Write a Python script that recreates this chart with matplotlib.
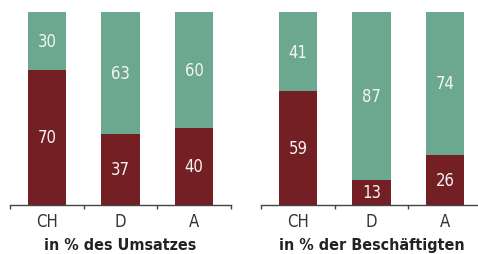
import matplotlib
matplotlib.use("Agg")
import matplotlib.pyplot as plt

# data
categories = ["CH", "D", "A"]
umsatz_red = [70, 37, 40]
umsatz_green = [30, 63, 60]
besch_red = [59, 13, 26]
besch_green = [41, 87, 74]
titles = ["in % des Umsatzes", "in % der Beschäftigten"]

RED = "#741f24"
GREEN = "#6ca88f"
GREY = "#333333"

plt.rcParams['font.family'] = ['DejaVu Sans']
plt.rcParams['font.stretch'] = 'condensed'

fig = plt.figure(figsize=(4.78, 2.55), dpi=100)
ax1 = fig.add_axes([10 / 478, 49 / 255, 221 / 478, 193 / 255])
ax2 = fig.add_axes([261 / 478, 49 / 255, 221 / 478, 193 / 255])


def draw_panel(ax, red, green, title):
    x = list(range(len(categories)))
    ax.bar(x, red, width=0.52, color=RED)
    ax.bar(x, green, width=0.52, bottom=red, color=GREEN)
    for i in x:
        ax.text(i, red[i] / 2, str(red[i]), ha="center", va="center",
                color="#f4f4f4", fontsize=12)
        ax.text(i, red[i] + green[i] / 2, str(green[i]), ha="center",
                va="center", color="#f4f4f4", fontsize=12)
    ax.set_xlim(-0.5, 2.5)
    ax.set_ylim(0, 100)
    for s in ["top", "right", "left"]:
        ax.spines[s].set_visible(False)
    ax.spines["bottom"].set_color("#444444")
    ax.spines["bottom"].set_linewidth(1.0)
    ax.set_yticks([])
    # boundary ticks (no labels) and category labels as minor ticks
    ax.set_xticks([-0.5, 0.5, 1.5, 2.5])
    ax.set_xticklabels([])
    ax.tick_params(axis="x", which="major", length=3, width=1.0, color="#444444")
    ax.set_xticks(x, minor=True)
    ax.set_xticklabels(categories, minor=True, fontsize=12, color=GREY)
    ax.tick_params(axis="x", which="minor", length=0, pad=5)
    ax.set_xlabel(title, fontsize=11.5, fontweight="bold", color="#222222", labelpad=5)


draw_panel(ax1, umsatz_red, umsatz_green, titles[0])
draw_panel(ax2, besch_red, besch_green, titles[1])

fig.savefig("out.png", dpi=100)
